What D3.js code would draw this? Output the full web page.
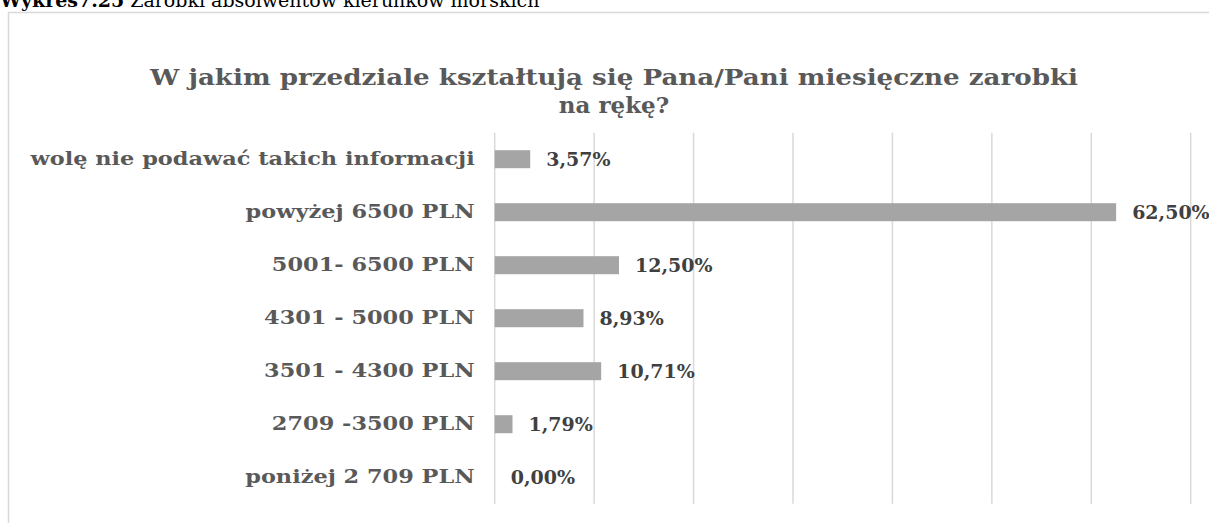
<!DOCTYPE html>
<html>
<head>
<meta charset="utf-8">
<script src="https://cdn.jsdelivr.net/npm/d3@7"></script>
<style>
  html, body { margin: 0; padding: 0; background: #fff; overflow: hidden; }
  svg { display: block; }
</style>
</head>
<body>
<svg id="chart" width="1209" height="523"></svg>
<script>
// Monthly net earnings brackets of maritime graduates (share of respondents, %)
const categories = [
  "wolę nie podawać takich informacji",
  "powyżej 6500 PLN",
  "5001- 6500 PLN",
  "4301 - 5000 PLN",
  "3501 - 4300 PLN",
  "2709 -3500 PLN",
  "poniżej 2 709 PLN"
];
const shares = [3.57, 62.50, 12.50, 8.93, 10.71, 1.79, 0.00];
const gridTicks = [0, 10, 20, 30, 40, 50, 60, 70];
const titleLines = [
  "W jakim przedziale kształtują się Pana/Pani miesięczne zarobki",
  "na rękę?"
];

const svg = d3.select("#chart");
const serif = "'DejaVu Serif', 'Liberation Serif', serif";

// Widen a text element horizontally by factor k
function stretch(sel, k) {
  sel.each(function () {
    const w = this.getComputedTextLength();
    d3.select(this)
      .attr("textLength", w * k)
      .attr("lengthAdjust", "spacingAndGlyphs");
  });
}

// Caption above the chart frame (partly cut by the page top)
const cap = svg.append("text")
  .attr("x", 0).attr("y", 7)
  .attr("font-family", serif)
  .attr("font-size", 19)
  .attr("fill", "#000");
cap.append("tspan").attr("font-weight", "bold").text("Wykres7.25");
cap.append("tspan").text(" Zarobki absolwentów kierunków morskich");

// Chart frame
svg.append("rect")
  .attr("x", 8.5).attr("y", 12.5)
  .attr("width", 1300).attr("height", 600)
  .attr("fill", "#fff")
  .attr("stroke", "#d9d9d9")
  .attr("stroke-width", 1.5);

// Title
svg.append("g").selectAll("text")
  .data(titleLines)
  .join("text")
  .attr("x", 614)
  .attr("y", (d, i) => 85 + i * 28)
  .attr("text-anchor", "middle")
  .attr("font-family", serif)
  .attr("font-weight", "bold")
  .attr("font-size", 23)
  .attr("fill", "#595959")
  .attr("textLength", (d, i) => i === 0 ? 928 : null)
  .attr("lengthAdjust", "spacingAndGlyphs")
  .text(d => d);

const x = d3.scaleLinear().domain([0, 70]).range([494.7, 1190.7]);
const y = d3.scaleBand()
  .domain(categories)
  .range([132.7, 503.7])
  .paddingInner(0.66)
  .paddingOuter(0.33);

// Vertical gridlines
svg.append("g")
  .selectAll("line")
  .data(gridTicks)
  .join("line")
  .attr("x1", d => x(d)).attr("x2", d => x(d))
  .attr("y1", 132.7).attr("y2", 503.7)
  .attr("stroke", "#d9d9d9")
  .attr("stroke-width", 1.5);

// Category axis labels
const yAxis = d3.axisLeft(y).tickSize(0).tickPadding(20);
const ya = svg.append("g")
  .attr("transform", `translate(${x(0)},0)`)
  .call(yAxis);
ya.select(".domain").remove();
ya.selectAll("text")
  .attr("font-family", serif)
  .attr("font-weight", "bold")
  .attr("font-size", 19)
  .attr("fill", "#595959")
  .call(stretch, 1.18);

// Bars
svg.append("g")
  .selectAll("rect")
  .data(shares)
  .join("rect")
  .attr("x", x(0))
  .attr("y", (d, i) => y(categories[i]))
  .attr("width", d => x(d) - x(0))
  .attr("height", y.bandwidth())
  .attr("fill", "#a5a5a5");

// Value labels
const fmt = v => v.toFixed(2).replace(".", ",") + "%";
svg.append("g")
  .selectAll("text")
  .data(shares)
  .join("text")
  .attr("x", d => x(d) + 16)
  .attr("y", (d, i) => y(categories[i]) + y.bandwidth() / 2)
  .attr("dy", "0.35em")
  .attr("font-family", serif)
  .attr("font-weight", "bold")
  .attr("font-size", 19)
  .attr("fill", "#404040")
  .text(d => fmt(d));
</script>
</body>
</html>
